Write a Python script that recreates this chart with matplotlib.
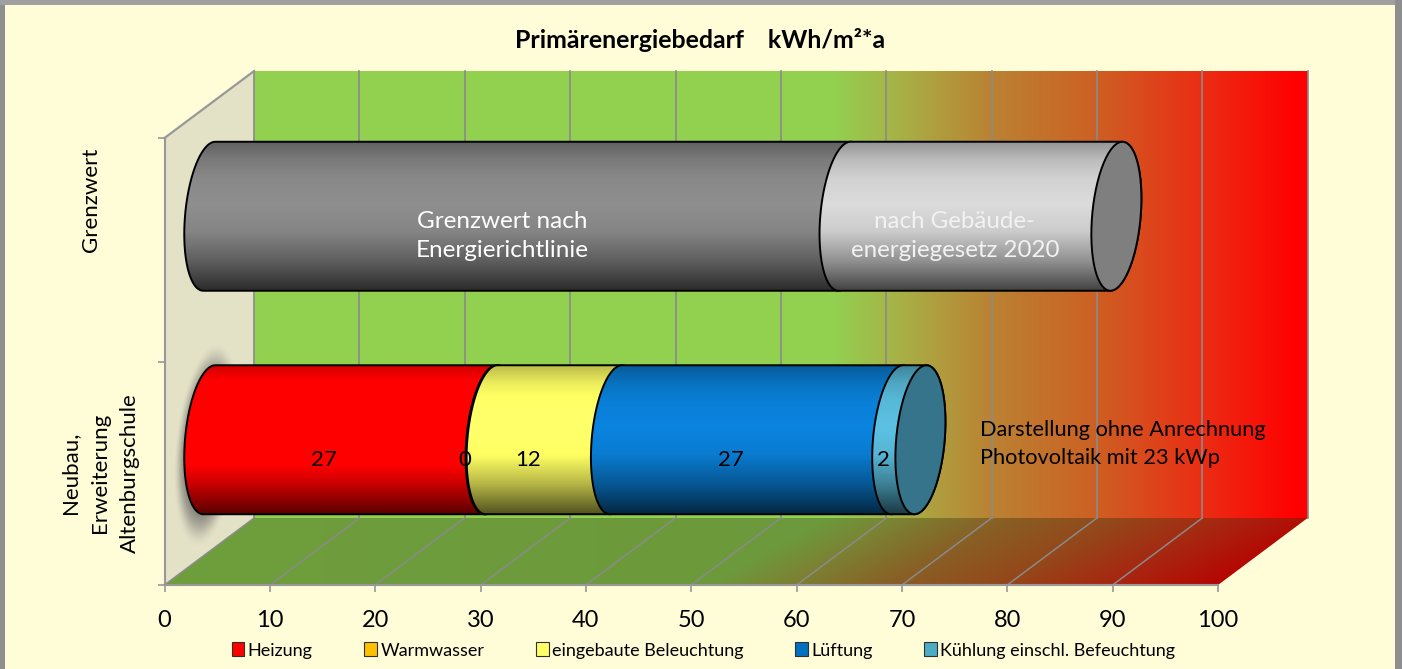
import numpy as np
import matplotlib
matplotlib.use("Agg")
import matplotlib.pyplot as plt
from matplotlib.patches import Polygon, Rectangle, PathPatch
from matplotlib.path import Path

plt.rcParams['font.family'] = ['Lato', 'DejaVu Sans']

W, H = 1402, 669

# data
categories = ['Neubau,\nErweiterung\nAltenburgschule', 'Grenzwert']
series_names = ['Heizung', 'Warmwasser', 'eingebaute Beleuchtung', 'Lüftung', 'Kühlung einschl. Befeuchtung']
school_values = [26.7, 0.1, 11.8, 26.7, 2.2]
school_labels = ['27', '0', '12', '27', '2']
limit_values = [60.3, 25.8]
x_ticks = list(range(0, 101, 10))

# colours
series_bright = [(1.2, 0, 0), (1.0, 0.75, 0), (1.08, 1.08, 0.42), (0.04, 0.52, 0.88), (0.36, 0.76, 0.89)]
series_legend = ['#FF0000', '#FFC000', '#FFFF66', '#0070C0', '#4BACC6']
limit_bright = [(0.56, 0.56, 0.56), (0.86, 0.86, 0.86)]
BG = '#FFFDD8'
GRID = '#8A8A8A'

fig = plt.figure(figsize=(W / 100, H / 100), dpi=100, facecolor=BG)
ax = fig.add_axes([164.5 / W, (H - 585) / H, 1053.5 / W, 447 / H])
ax.set_facecolor('none')

SX, SY = 10.535, 223.5  # px per data unit
DX, DY = 89.6 / SX, 67 / SY  # chart depth
A, K, B = 24.3 / SX, 6 / SX, 74.5 / SY  # cylinder end ellipse


def hgrad(stops, n=400):
    t = np.linspace(0, 1, n)
    pos = [s[0] for s in stops]
    return np.stack([np.interp(t, pos, [s[i + 1] for s in stops]) for i in range(3)], axis=-1)


wall_stops = [(0, .573, .816, .314), (.55, .573, .816, .314), (.605, .65, .71, .28), (.70, .73, .51, .20),
              (.797, .80, .38, .14), (.899, .92, .18, .08), (.99, 1, 0, 0), (1, 1, 0, 0)]
wall = hgrad(wall_stops)


def clip_image(img, extent, patch, z):
    im = ax.imshow(img, extent=extent, aspect='auto', interpolation='bilinear', zorder=z, origin='upper')
    im.set_clip_path(patch)
    im.set_clip_box(fig.bbox)
    return im


def poly(points, z, **kw):
    p = Polygon(points, closed=True, clip_on=False, zorder=z, **kw)
    ax.add_patch(p)
    return p


# back wall
back = poly([(DX, DY), (100 + DX, DY), (100 + DX, 2 + DY), (DX, 2 + DY)], 1, fc='none', ec='none')
clip_image(wall[None, :, :], (DX, 100 + DX, DY, 2 + DY), back, 1)

# floor, gradient runs a bit diagonal
floor = poly([(0, 0), (100, 0), (100 + DX, DY), (DX, DY)], 1, fc='none', ec='none')
u, v = np.meshgrid(np.linspace(0, 1, 500), np.linspace(0, 1, 60))
tt = np.clip(u * 0.95 + v * 0.10, 0, 1)
floor_img = np.stack([np.interp(tt, np.linspace(0, 1, 400), wall[:, i]) for i in range(3)], axis=-1)
floor_img = floor_img * (0.72 + 0.04 * (1 - u[..., None]))
floor_img = np.clip(floor_img, 0, 1)
clip_image(floor_img, (0, 100 + DX, 0, DY), floor, 1)

# left wall
left = poly([(0, 0), (0, 2), (DX, 2 + DY), (DX, DY)], 1.1, fc='#E3E1C6', ec='none')

# grid
for t in x_ticks:
    ax.plot([t + DX, t + DX], [DY, 2 + DY], color=GRID, lw=1.2, clip_on=False, zorder=2)
    if t < 100:
        ax.plot([t, t + DX], [0, DY], color=GRID, lw=1.1, clip_on=False, zorder=2)
ax.plot([0, DX], [2, 2 + DY], color='#989898', lw=1.6, clip_on=False, zorder=2)

# shadow behind the lower bar
sx = np.linspace(-1, 12, 200)
sy = np.linspace(-0.2, 1.4, 320)
gx, gy = np.meshgrid(sx, sy[::-1])
cy0 = 0.5 + DY / 2
uu = (gx - DX / 2 + 0.15 - K * 1.2 * (gy - cy0) / B) / (31 / SX)
vv = (gy - cy0 + 5 / SY) / (98 / SY)
fade = np.clip((1.05 - np.sqrt(uu ** 2 + vv ** 2)) / 0.4, 0, 1)
shadow = np.zeros(gx.shape + (4,))
shadow[..., :3] = 0.36
shadow[..., 3] = 0.68 * fade * fade * (3 - 2 * fade)
clip_image(shadow, (sx[0], sx[-1], sy[0], sy[-1]), left, 3)

grad_pos = [0, .12, .25, .42, .60, .80, 1]
grad_mul = [.68, .86, .96, 1, .93, .66, .30]


def end_arc(v, cy, t0, t1, n=60):
    t = np.radians(np.linspace(t0, t1, n))
    return np.column_stack([v + DX / 2 + A * np.cos(t) + K * np.sin(t), cy + B * np.sin(t)])


def segment(v0, v1, cy, bright, z):
    pts = np.vstack([end_arc(v0, cy, 90, 270), end_arc(v1, cy, 270, 450)])
    outline = PathPatch(Path(np.vstack([pts, pts[:1]])), fc='none', ec='black', lw=1.4, clip_on=False, zorder=z + 0.5)
    ax.add_patch(outline)
    t = np.linspace(0, 1, 200)
    mul = np.interp(t, grad_pos, grad_mul)
    img = np.clip(np.outer(mul, bright)[:, None, :], 0, 1)
    left_px = v0 + DX / 2 - A - K
    right_px = v1 + DX / 2 + A + K
    clip_image(img, (left_px, right_px, cy - B, cy + B), outline, z)


def cylinder(values, cy, colors, cap, z):
    edges = np.concatenate([[0], np.cumsum(values)])
    for i in range(len(values)):
        segment(edges[i], edges[i + 1], cy, colors[i], z + i)
    poly(end_arc(edges[-1], cy, 0, 360), z + len(values), fc=cap, ec='black', lw=1.4)
    return edges


edges = cylinder(school_values, 0.5 + DY / 2, series_bright, '#35748A', 5)
cylinder(limit_values, 1.5 + DY / 2, limit_bright, '#7F7F7F', 15)

# value labels of the school bar
for i, lab in enumerate(school_labels):
    mid = (edges[i] + edges[i + 1]) / 2
    ax.text(mid + 19 / SX, 0.5 + DY / 2 - 20 / SY, lab, ha='center', va='center', fontsize=16, color='black', zorder=30)

# axes
ax.set_xlim(0, 100)
ax.set_ylim(0, 2)
ax.set_xticks(x_ticks)
ax.set_yticks([0, 1, 2])
ax.set_yticklabels([])
ax.tick_params(axis='both', color='#989898', width=1.2, length=5, labelsize=17, pad=13, labelcolor='black')
for name in ['top', 'right']:
    ax.spines[name].set_visible(False)
for name in ['left', 'bottom']:
    ax.spines[name].set_color('#989898')
    ax.spines[name].set_linewidth(1.5)


def ftext(px, py, s, **kw):
    return fig.text(px / W, 1 - py / H, s, ha=kw.pop('ha', 'center'), va='center', **kw)


ftext(700, 40, 'Primärenergiebedarf    kWh/m²*a', fontsize=17.9, fontweight='bold')
ftext(100, 473, categories[0], rotation=90, fontsize=16, linespacing=1.6, multialignment='center')
ftext(91, 200, categories[1], rotation=90, fontsize=16)
ftext(502, 236, 'Grenzwert nach\nEnergierichtlinie', color='white', fontsize=17.5, linespacing=1.5)
ftext(955, 236, 'nach Gebäude-\nenergiegesetz 2020', color='#F2F2F2', fontsize=17.4, linespacing=1.5)
ftext(980, 444, 'Darstellung ohne Anrechnung\nPhotovoltaik mit 23 kWp', ha='left', fontsize=15.7, linespacing=1.45)

# legend
handles = [Rectangle((0, 0), 1, 1, fc=c, ec='#303030', lw=0.8) for c in series_legend]
fig.legend(handles, series_names, loc='center', bbox_to_anchor=(703.5 / W, 1 - 650.5 / H), ncol=5, frameon=False,
           fontsize=13, handlelength=0.7, handleheight=0.8, handletextpad=0.2, columnspacing=2.85)

# frame of the screenshot
fig.add_artist(Rectangle((0, 0), 5 / W, 1, transform=fig.transFigure, fc='#8E8E8E', ec='none'))
fig.add_artist(Rectangle((0, 1 - 5 / H), 1, 5 / H, transform=fig.transFigure, fc='#A0A0A0', ec='none'))
fig.add_artist(Rectangle((1 - 7 / W, 0), 7 / W, 1, transform=fig.transFigure, fc='#8E8E8E', ec='none'))

fig.savefig('out.png', dpi=100, facecolor=BG)
